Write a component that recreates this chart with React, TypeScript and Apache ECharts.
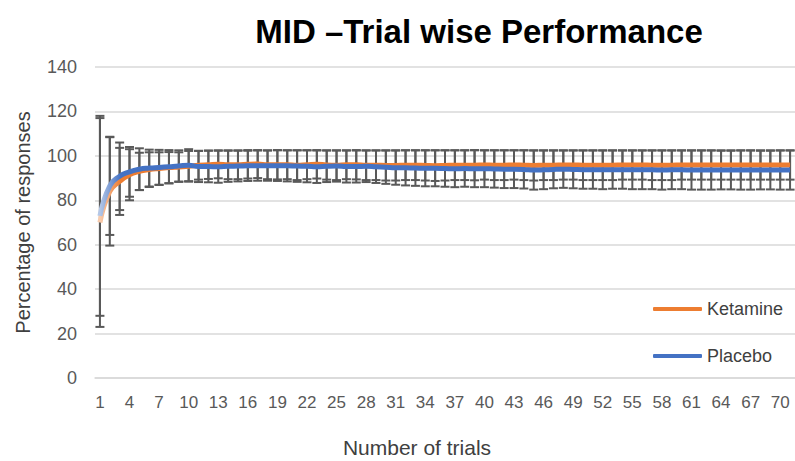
import React, { useEffect, useRef } from "react";
import * as echarts from "echarts";

const trials: string[] = Array.from({ length: 71 }, (_, i) => String(i + 1));

const ketamineMean = [
  70, 84, 88.5, 91.5, 93, 93.8, 94.3, 94.7, 95, 95.3,
  95.8, 96, 96.2, 96, 96, 96.2, 96.3, 96, 96, 96,
  95.8, 96, 96.2, 95.9, 95.8, 96, 96, 95.8, 95.8, 95.7,
  95.7, 95.8, 95.8, 95.7, 95.6, 95.7, 95.8, 95.8, 95.8, 95.9,
  95.8, 95.8, 95.9, 95.8, 95.7, 95.8, 95.8, 95.9, 95.9, 95.8,
  95.8, 95.8, 95.8, 95.9, 95.9, 95.9, 95.8, 95.8, 95.8, 95.9,
  95.9, 95.9, 95.9, 95.9, 95.9, 95.9, 95.9, 95.9, 95.9, 95.9, 95.9,
];

const placeboMean = [
  73, 86.5, 90.8, 92.8, 94, 94.5, 94.8, 95.1, 95.4, 95.8,
  95.2, 95.2, 95.1, 95.3, 95.4, 95.5, 95.6, 95.6, 95.6, 95.5,
  95.4, 95.3, 95.1, 95.3, 95.4, 95.2, 95.2, 95.3, 95.1, 94.9,
  94.7, 94.6, 94.5, 94.4, 94.4, 94.3, 94.2, 94.3, 94.2, 94.2,
  94.1, 94.0, 94.0, 93.9, 93.6, 93.7, 93.9, 94.0, 93.9, 93.8,
  93.8, 93.7, 93.8, 93.8, 93.7, 93.7, 93.7, 93.6, 93.7, 93.7,
  93.6, 93.6, 93.6, 93.6, 93.6, 93.6, 93.6, 93.6, 93.6, 93.6, 93.6,
];

const ketamineSd = [
  47, 24.4, 15.1, 11.5, 8.4, 7.8, 7.3, 7, 6.6, 6.9,
  6.5, 6.4, 6.3, 6.5, 6.5, 6.4, 6.3, 6.5, 6.6, 6.5,
  6.7, 6.5, 6.4, 6.6, 6.7, 6.5, 6.6, 6.7, 6.7, 6.8,
  6.8, 6.7, 6.7, 6.8, 6.9, 6.8, 6.7, 6.7, 6.8, 6.6,
  6.7, 6.7, 6.6, 6.7, 6.8, 6.7, 6.7, 6.6, 6.6, 6.7,
  6.7, 6.7, 6.7, 6.6, 6.6, 6.6, 6.7, 6.7, 6.7, 6.6,
  6.6, 6.6, 6.6, 6.6, 6.6, 6.6, 6.6, 6.6, 6.6, 6.6, 6.6,
];

const placeboSd = [
  45, 22.1, 15.2, 11.2, 9.4, 8.3, 7.9, 7.5, 7.1, 7.2,
  7.0, 7.1, 7.2, 7.0, 6.9, 6.8, 6.8, 6.8, 6.9, 7.0,
  7.1, 7.2, 7.3, 7.1, 7.0, 7.2, 7.2, 7.1, 7.3, 7.5,
  7.7, 7.9, 8.0, 8.1, 8.1, 8.2, 8.3, 8.2, 8.3, 8.3,
  8.4, 8.5, 8.5, 8.6, 8.8, 8.7, 8.5, 8.4, 8.5, 8.6,
  8.6, 8.7, 8.6, 8.6, 8.7, 8.7, 8.7, 8.8, 8.7, 8.7,
  8.8, 8.8, 8.8, 8.7, 8.7, 8.8, 8.8, 8.7, 8.7, 8.8, 8.8,
];

const FONT = "'Liberation Sans', Arial, sans-serif";
const ORANGE = "#ED7D31";
const BLUE = "#4472C4";

function errorData(mean: number[], sd: number[]) {
  return mean.map((m, i) => [i, m - sd[i], m + sd[i]]);
}

function renderErrorBar(_params: any, api: any) {
  const idx = api.value(0);
  const pLo = api.coord([idx, api.value(1)]);
  const pHi = api.coord([idx, api.value(2)]);
  const w = 4.5;
  const style = { stroke: "#595959", lineWidth: 2, fill: "none" };
  return {
    type: "group",
    children: [
      { type: "line", shape: { x1: pLo[0], y1: pHi[1], x2: pLo[0], y2: pLo[1] }, style },
      { type: "line", shape: { x1: pLo[0] - w, y1: pHi[1], x2: pLo[0] + w, y2: pHi[1] }, style },
      { type: "line", shape: { x1: pLo[0] - w, y1: pLo[1], x2: pLo[0] + w, y2: pLo[1] }, style },
    ],
  };
}

function fade(light: string, full: string) {
  return {
    type: "linear",
    x: 0,
    y: 0,
    x2: 1,
    y2: 0,
    colorStops: [
      { offset: 0, color: light },
      { offset: 0.03, color: full },
      { offset: 1, color: full },
    ],
  };
}

export default function App() {
  const ref = useRef<HTMLDivElement>(null);

  useEffect(() => {
    if (!ref.current) return;
    const chart = echarts.init(ref.current, undefined, { renderer: "svg" });
    const legendText = { fontFamily: FONT, fontSize: 18, color: "#404040" };
    chart.setOption({
      animation: false,
      backgroundColor: "#ffffff",
      title: {
        text: "MID \u2013Trial wise Performance",
        left: 474,
        top: 10,
        textAlign: "center",
        textStyle: { fontFamily: FONT, fontSize: 33, fontWeight: "bold", color: "#000000" },
      },
      legend: [
        {
          data: ["Ketamine"],
          left: 648,
          top: 295,
          icon: "roundRect",
          itemWidth: 49,
          itemHeight: 4,
          itemGap: 0,
          textStyle: legendText,
        },
        {
          data: ["Placebo"],
          left: 648,
          top: 342,
          icon: "roundRect",
          itemWidth: 49,
          itemHeight: 4,
          itemGap: 0,
          textStyle: legendText,
        },
      ],
      grid: { left: 95, right: -5, top: 67, bottom: 83, containLabel: false },
      xAxis: {
        type: "category",
        data: trials,
        boundaryGap: true,
        axisTick: { show: false },
        axisLine: { show: true, lineStyle: { color: "#d9d9d9", width: 1.5 } },
        axisLabel: { interval: 2, fontFamily: FONT, fontSize: 17, color: "#595959", margin: 16 },
      },
      yAxis: {
        type: "value",
        min: 0,
        max: 140,
        interval: 20,
        name: "Percentage of responses",
        nameLocation: "middle",
        nameGap: 62,
        nameTextStyle: { fontFamily: FONT, fontSize: 20, color: "#404040" },
        axisLine: { show: false },
        axisTick: { show: false },
        axisLabel: { fontFamily: FONT, fontSize: 18, color: "#595959", margin: 18 },
        splitLine: { lineStyle: { color: "#d9d9d9", width: 1.5 } },
      },
      graphic: [
        {
          type: "text",
          x: 417,
          y: 437,
          style: {
            text: "Number of trials",
            fontFamily: FONT,
            fontSize: 21,
            fill: "#404040",
            align: "center",
            textAlign: "center",
          },
        },
      ],
      series: [
        {
          name: "Ketamine error",
          type: "custom",
          renderItem: renderErrorBar,
          data: errorData(ketamineMean, ketamineSd),
          encode: { x: 0, y: [1, 2] },
          z: 1,
          silent: true,
        },
        {
          name: "Placebo error",
          type: "custom",
          renderItem: renderErrorBar,
          data: errorData(placeboMean, placeboSd),
          encode: { x: 0, y: [1, 2] },
          z: 1,
          silent: true,
        },
        {
          name: "Ketamine",
          type: "line",
          data: ketamineMean,
          smooth: true,
          symbol: "none",
          color: ORANGE,
          lineStyle: { width: 5, color: fade("#f8cbad", ORANGE) },
          z: 2,
        },
        {
          name: "Placebo",
          type: "line",
          data: placeboMean,
          smooth: true,
          symbol: "none",
          color: BLUE,
          lineStyle: { width: 5, color: fade("#b4c7e7", BLUE) },
          z: 3,
        },
      ],
    });
    return () => chart.dispose();
  }, []);

  return (
    <div
      ref={ref}
      style={{ position: "fixed", left: 0, top: 0, width: 795, height: 461 }}
    />
  );
}
